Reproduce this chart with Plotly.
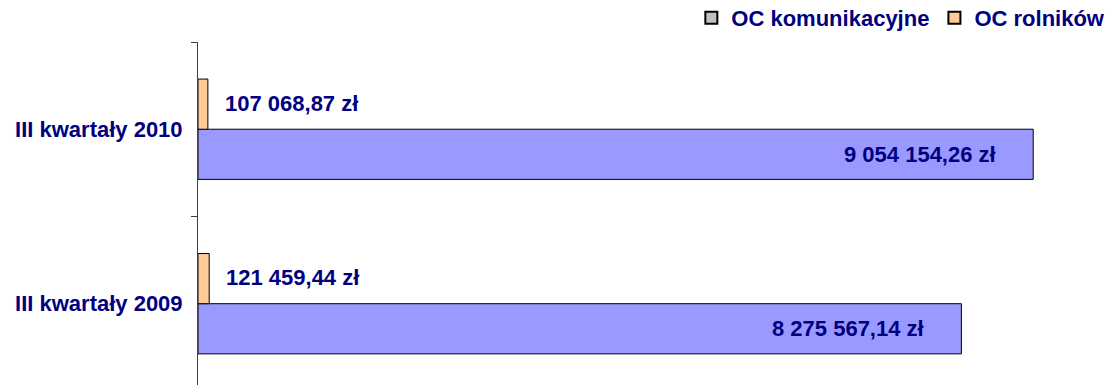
import plotly.graph_objects as go

categories = ["III kwartały 2009", "III kwartały 2010"]
oc_komunikacyjne = [8275567.14, 9054154.26]
oc_rolnikow = [121459.44, 107068.87]
series_names = ["OC komunikacyjne", "OC rolników"]

def fmt(v):
    s = f"{v:,.2f}"
    whole, dec = s.split(".")
    return whole.replace(",", " ") + "," + dec + " zł"

NAVY = "#000080"
FONT = "Liberation Sans, Arial, sans-serif"
FS = 22

fig = go.Figure()
fig.add_trace(go.Bar(y=categories, x=oc_komunikacyjne, orientation="h",
                     marker=dict(color="#9999FF", line=dict(color="black", width=1)),
                     showlegend=False, name=series_names[0]))
fig.add_trace(go.Bar(y=categories, x=oc_rolnikow, orientation="h",
                     marker=dict(color="#FFCC99", line=dict(color="black", width=1)),
                     showlegend=False, name=series_names[1]))
# legend entries
fig.add_trace(go.Scatter(x=[None], y=[None], mode="markers", name=series_names[0],
                         marker=dict(symbol="square", size=11, color="#C0C0C0",
                                     line=dict(color="black", width=1))))
fig.add_trace(go.Scatter(x=[None], y=[None], mode="markers", name=series_names[1],
                         marker=dict(symbol="square", size=11, color="#FFCC99",
                                     line=dict(color="black", width=1))))

annotations = []
for c, v in zip(categories, oc_komunikacyjne):
    annotations.append(dict(x=v, y=c, text=fmt(v), showarrow=False, xanchor="right",
                            xshift=-35, yshift=-25,
                            font=dict(family=FONT, size=FS, color=NAVY, weight="bold")))
for c, v in zip(categories, oc_rolnikow):
    annotations.append(dict(x=v, y=c, text=fmt(v), showarrow=False, xanchor="left",
                            xshift=15, yshift=26,
                            font=dict(family=FONT, size=FS, color=NAVY, weight="bold")))

fig.update_layout(
    width=1114, height=385,
    margin=dict(l=198, r=0, t=42, b=0, autoexpand=False),
    paper_bgcolor="white", plot_bgcolor="white",
    barmode="group", bargap=0.425, bargroupgap=0,
    font=dict(family=FONT, size=FS, color=NAVY, weight="bold"),
    annotations=annotations,
    legend=dict(orientation="h", x=0.996, xanchor="right", y=1.07, yanchor="middle",
                font=dict(family=FONT, size=FS, color=NAVY, weight="bold"),
                itemsizing="constant", bgcolor="rgba(0,0,0,0)"),
    xaxis=dict(range=[0, 9.93e6], showgrid=False, zeroline=False, showticklabels=False,
               showline=False, fixedrange=True),
    yaxis=dict(type="category", range=[-0.466, 1.5], showgrid=False, zeroline=False,
               showline=True, linecolor="#404040", linewidth=1,
               ticks="outside", ticklen=6, tickcolor="#404040", tickson="boundaries",
               ticklabelstandoff=10,
               tickfont=dict(family=FONT, size=FS, color=NAVY, weight="bold")),
)

fig.write_html("out.html", config={"displayModeBar": False},
               post_script="document.body.style.margin='0';")
